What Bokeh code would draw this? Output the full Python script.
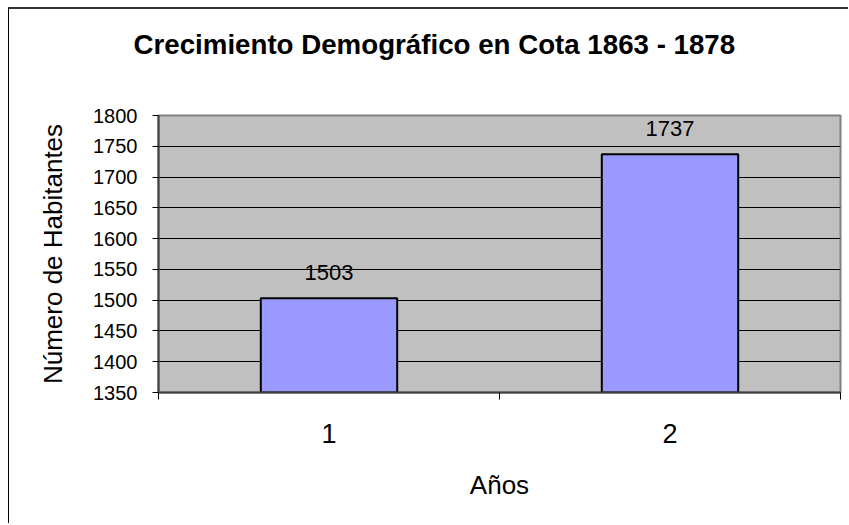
from bokeh.plotting import figure
from bokeh.models import Range1d, FixedTicker, ColumnDataSource, Title
from bokeh.embed import file_html
from bokeh.resources import INLINE
from bokeh.core.properties import value

categories = ["1", "2"]
x_pos = [1, 2]
habitantes = [1503, 1737]
y_ticks = [1350, 1400, 1450, 1500, 1550, 1600, 1650, 1700, 1750, 1800]
boundaries = [0.5, 1.5, 2.5]
title_text = "Crecimiento Demográfico en Cota 1863 - 1878"
x_title = "Años"
y_title = "Número de Habitantes"
FONT = "Liberation Sans"

src = ColumnDataSource(dict(x=x_pos, top=habitantes,
                            label=[str(v) for v in habitantes]))

p = figure(width=840, height=516, output_backend="svg", toolbar_location=None,
           x_range=Range1d(boundaries[0], boundaries[-1]),
           y_range=Range1d(y_ticks[0], y_ticks[-1]),
           min_border_left=149, min_border_right=9,
           min_border_top=106, min_border_bottom=133)

p.background_fill_color = "#C0C0C0"
p.border_fill_color = "white"
p.outline_line_color = "#808080"
p.outline_line_width = 2
p.styles = {"margin-left": "8px", "margin-top": "7px",
            "border-left": "1px solid black", "border-top": "2px solid #333333"}

# blank spacer between the frame and the title
spacer = Title(text=" ", standoff=48, text_font_size="1px")
p.add_layout(spacer, "above")

# title
p.title.text = title_text
p.title.align = "left"
p.title.offset = -25
p.title.standoff = 10
p.title.text_font = FONT
p.title.text_font_size = "27.7px"
p.title.text_font_style = "bold"
p.title.text_color = "black"

# bars
p.vbar(x="x", top="top", bottom=y_ticks[0], width=0.4, source=src,
       fill_color="#9999FF", line_color="black", line_width=2)
p.text(x="x", y="top", text="label", source=src, text_align="center",
       text_baseline="alphabetic", y_offset=-26, text_font=value(FONT),
       text_font_size="22px", text_color="black")

# x axis
xa = p.xaxis[0]
xa.ticker = FixedTicker(ticks=x_pos, minor_ticks=boundaries)
xa.major_label_overrides = {x: c for x, c in zip(x_pos, categories)}
xa.major_tick_out = 0
xa.major_tick_in = 0
xa.minor_tick_out = 7
xa.minor_tick_in = 0
xa.minor_tick_line_color = "black"
xa.axis_line_color = "#404040"
xa.axis_line_width = 2
xa.major_label_standoff = 24
xa.major_label_text_font = FONT
xa.major_label_text_font_size = "27px"
xa.major_label_text_color = "black"
xa.axis_label = x_title
xa.axis_label_standoff = 24
xa.axis_label_text_font = FONT
xa.axis_label_text_font_size = "26px"
xa.axis_label_text_font_style = "normal"
xa.axis_label_text_color = "black"

# y axis
ya = p.yaxis[0]
ya.ticker = FixedTicker(ticks=y_ticks)
ya.major_tick_out = 6
ya.major_tick_in = 0
ya.minor_tick_out = 0
ya.minor_tick_in = 0
ya.major_tick_line_color = "black"
ya.axis_line_color = "#404040"
ya.axis_line_width = 2
ya.major_label_standoff = 15
ya.major_label_text_font = FONT
ya.major_label_text_font_size = "20px"
ya.major_label_text_color = "black"
ya.axis_label = y_title
ya.axis_label_standoff = 22
ya.axis_label_text_font = FONT
ya.axis_label_text_font_size = "26px"
ya.axis_label_text_font_style = "normal"
ya.axis_label_text_color = "black"

p.xgrid.visible = False
p.ygrid.ticker = FixedTicker(ticks=y_ticks)
p.ygrid.grid_line_color = "black"
p.ygrid.grid_line_width = 1

open("out.html", "w").write(file_html(p, INLINE))
